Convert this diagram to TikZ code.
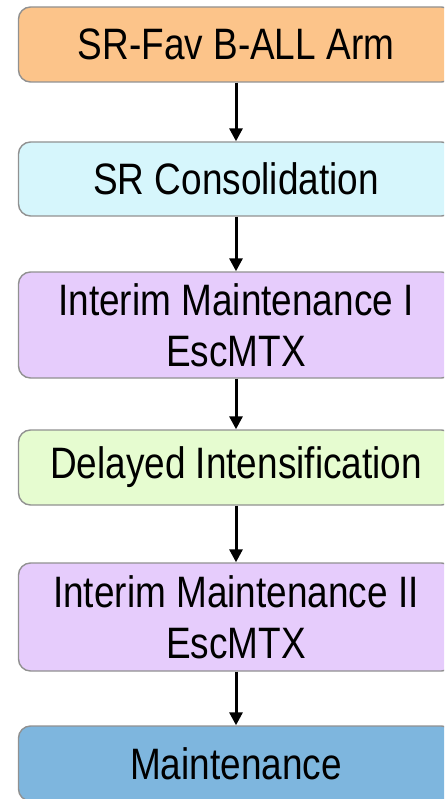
\documentclass[tikz,border=0pt]{standalone}
\usepackage{fontspec}
\setmainfont{Liberation Sans}[FakeStretch=0.84]
\usetikzlibrary{arrows.meta}
\definecolor{boxline}{RGB}{145,145,145}
\definecolor{armfill}{RGB}{252,196,138}
\definecolor{consfill}{RGB}{214,246,252}
\definecolor{imfill}{RGB}{230,204,252}
\definecolor{difill}{RGB}{230,252,208}
\definecolor{maintfill}{RGB}{126,182,222}
\begin{document}
\begin{tikzpicture}[x=1pt,y=-1pt,
  stage/.style={draw=boxline, line width=1.4pt, rounded corners=12pt,
    minimum width=435pt, align=center, inner sep=0pt,
    font=\fontsize{44}{51}\selectfont},
  flow/.style={-{Triangle[width=13pt,length=13pt]}, line width=3pt, black}]
\useasboundingbox (0,0) rectangle (444,799);
\clip (0,0) rectangle (444,799);
% treatment phases, top to bottom
\node[stage, fill=armfill, minimum height=75pt] (arm) at (236,44.5) {SR-Fav B-ALL Arm};
\node[stage, fill=consfill, minimum height=74pt] (cons) at (236,179) {SR Consolidation};
\node[stage, fill=imfill, minimum height=106pt] (imone) at (236,325) {Interim Maintenance I\\EscMTX};
\node[stage, fill=difill, minimum height=75pt] (di) at (236,467.5) {Delayed Intensification};
\node[stage, fill=imfill, minimum height=108pt] (imtwo) at (236,617) {Interim Maintenance II\\EscMTX};
\node[stage, fill=maintfill, minimum height=75pt] (maint) at (236,763.5) {Maintenance};
% connectors between consecutive phases
\draw[flow] (arm.south) -- (cons.north);
\draw[flow] (cons.south) -- (imone.north);
\draw[flow] (imone.south) -- (di.north);
\draw[flow] (di.south) -- (imtwo.north);
\draw[flow] (imtwo.south) -- (maint.north);
\end{tikzpicture}
\end{document}
